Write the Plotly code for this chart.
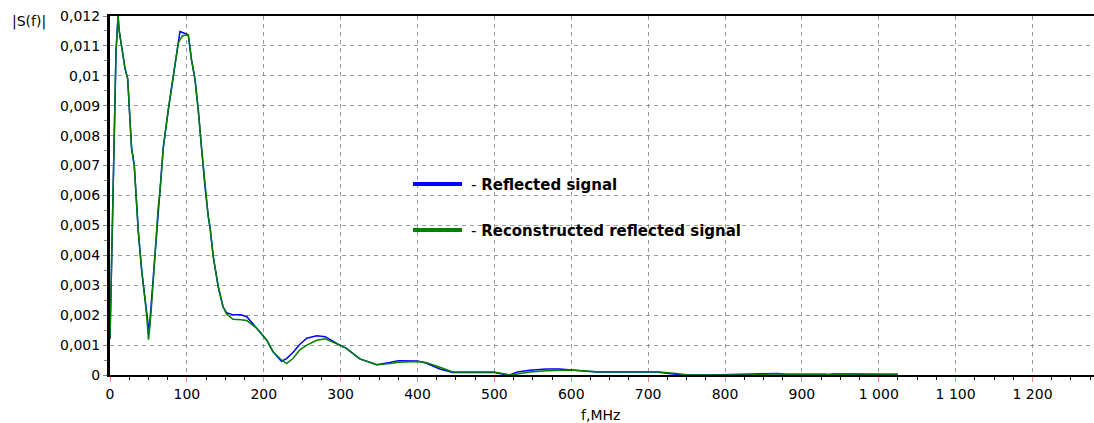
import plotly.graph_objects as go

# ---- data ----
freq_mhz = [0, 2, 5, 7.8, 10.5, 12, 15, 19.5, 23, 28, 31.6, 34.7, 36.8, 41.2, 45.5, 47.7,
            50, 51, 54, 57.2, 60.7, 62.8, 65, 69.3, 75.8, 82.3, 88.8, 91, 94.4, 101.8,
            106, 110.5, 114.8, 119, 123.5, 127.8, 130, 134.3, 140.8, 147, 151.7, 160, 170,
            178, 190.7, 203.7, 212, 223, 229.7, 238, 247, 256, 269, 280, 300, 307, 325,
            347, 364, 375, 400, 411, 429, 446, 470, 500, 510, 520, 530, 546, 568, 585,
            600, 633, 660, 700, 711, 737, 750, 780, 830, 860, 870, 880, 930, 940, 960,
            1025]

reflected = [0.0012, 0.0037, 0.0084, 0.0108, 0.0120, 0.0115, 0.0110, 0.01025, 0.0099, 0.0076,
             0.0070, 0.0056, 0.0048, 0.0035, 0.0025, 0.0021,
             0.0016, 0.0015, 0.0025, 0.0036, 0.00475, 0.00563, 0.0061, 0.0076, 0.00886, 0.0100,
             0.0111, 0.01148, 0.01145, 0.01137,
             0.01054, 0.0099, 0.00886, 0.0076, 0.0063, 0.0053, 0.00496, 0.00396, 0.00295, 0.00228,
             0.00208, 0.00201, 0.00201,
             0.00195, 0.00157, 0.00117, 0.00078, 0.00046, 0.00055, 0.00075, 0.00103, 0.00123,
             0.00131, 0.00128, 0.00098, 0.00090, 0.00054,
             0.00034, 0.00042, 0.00048, 0.00047, 0.00040, 0.00020, 0.00008, 0.00008, 0.00008,
             0.00003, 0.0, 0.0001, 0.00016, 0.0002, 0.0002,
             0.00017, 0.0001, 0.0001, 0.0001, 0.0001, 0.00002, 0.0, 0.0, 0.00003, 0.00003,
             0.00005, 0.0, 0.0, 0.00003, 0.00003,
             0.0]

reconstructed = [0.0012, 0.0037, 0.0084, 0.0108, 0.0120, 0.0115, 0.0110, 0.01025, 0.0099, 0.0076,
                 0.0070, 0.0056, 0.0048, 0.0035, 0.0025, 0.0020,
                 0.00118, 0.0014, 0.0023, 0.0036, 0.00475, 0.00563, 0.0061, 0.0076, 0.00886,
                 0.0100, 0.0111, 0.0112, 0.01134, 0.01137,
                 0.01054, 0.0099, 0.00886, 0.0076, 0.0063, 0.0053, 0.00496, 0.00396, 0.00295,
                 0.00228, 0.00204, 0.00186, 0.00185,
                 0.00182, 0.00157, 0.00117, 0.00078, 0.00050, 0.00038, 0.00055, 0.00084, 0.0010,
                 0.00116, 0.00121, 0.00098, 0.00090, 0.00054,
                 0.00034, 0.00038, 0.00043, 0.00045, 0.00042, 0.00026, 0.0001, 0.0001, 0.0001,
                 0.00005, 0.0, 0.00003, 0.0001, 0.00014, 0.00016,
                 0.00017, 0.00011, 0.00011, 0.00012, 0.00011, 0.00005, 0.00001, 0.0, 0.0, 0.00003,
                 0.00003, 0.00003, 0.00003, 0.0, 0.00003,
                 0.00003]

series_names = ["Reflected signal", "Reconstructed reflected signal"]
series_colors = ["#0000ff", "#008000"]

x_ticks = [0, 100, 200, 300, 400, 500, 600, 700, 800, 900, 1000, 1100, 1200]
x_tick_labels = ["0", "100", "200", "300", "400", "500", "600", "700", "800", "900",
                 "1 000", "1 100", "1 200"]
y_ticks = [0, 0.001, 0.002, 0.003, 0.004, 0.005, 0.006, 0.007, 0.008, 0.009, 0.010, 0.011, 0.012]
y_tick_labels = ["0", "0,001", "0,002", "0,003", "0,004", "0,005", "0,006", "0,007", "0,008",
                 "0,009", "0,01", "0,011", "0,012"]

y_title = "|S(f)|"
x_title = "f,MHz"

# ---- layout geometry ----
W, H = 1094, 423
ML, MR, MT, MB = 110, 0, 16, 48
PW, PH = W - ML - MR, H - MT - MB


def px(xp):
    return (xp - ML) / PW


def py(yp):
    return (H - MB - yp) / PH


FONT = "DejaVu Sans, Verdana, sans-serif"

fig = go.Figure()
fig.add_trace(go.Scatter(x=freq_mhz, y=reflected, mode="lines", name=series_names[0],
                         line=dict(color=series_colors[0], width=1.5), showlegend=False))
fig.add_trace(go.Scatter(x=freq_mhz, y=reconstructed, mode="lines", name=series_names[1],
                         line=dict(color=series_colors[1], width=1.5), showlegend=False))

grid = dict(showgrid=True, gridcolor="#9a9a9a", gridwidth=1, griddash="4px,4px", zeroline=False)

fig.update_layout(
    width=W, height=H,
    margin=dict(l=ML, r=MR, t=MT, b=MB, pad=0),
    paper_bgcolor="white", plot_bgcolor="white",
    font=dict(family=FONT, size=14, color="#000"),
    showlegend=False,
    xaxis=dict(range=[0, 1280], tickmode="array", tickvals=x_ticks, ticktext=x_tick_labels,
               ticks="outside", ticklen=5, tickwidth=1, tickcolor="#ff8080",
               minor=dict(ticks="outside", ticklen=3, tickcolor="#000", dtick=25, tick0=0,
                          showgrid=False),
               showline=True, linecolor="#000", linewidth=2, mirror=True,
               tickfont=dict(family=FONT, size=14, color="#000"), **grid),
    yaxis=dict(range=[0, 0.012], tickmode="array", tickvals=y_ticks, ticktext=y_tick_labels,
               ticks="outside", ticklen=4, tickwidth=1, tickcolor="#888",
               minor=dict(ticks="outside", ticklen=3, tickcolor="#888", dtick=0.0005, tick0=0,
                          showgrid=False),
               showline=True, linecolor="#000", linewidth=3,
               tickfont=dict(family=FONT, size=14, color="#000"), **grid),
)

# legend box (white, covers grid)
fig.add_shape(type="rect", xref="paper", yref="paper", x0=px(405), x1=px(1093),
              y0=py(283), y1=py(168), fillcolor="white", line=dict(width=0), layer="between")

legend_rows_y = [184, 230]
for name, color, yy in zip(series_names, series_colors, legend_rows_y):
    fig.add_shape(type="line", xref="paper", yref="paper", x0=px(413), x1=px(462),
                  y0=py(yy), y1=py(yy), line=dict(color=color, width=4), layer="above")
    fig.add_annotation(xref="paper", yref="paper", x=px(469), y=py(yy + 1), xanchor="left",
                       yanchor="middle", showarrow=False, text="- <b>" + name + "</b>",
                       font=dict(family=FONT, size=15, color="#000"))

fig.add_annotation(xref="paper", yref="paper", x=px(10), y=py(21), xanchor="left",
                   yanchor="middle", showarrow=False, text=y_title,
                   font=dict(family=FONT, size=14, color="#000"))
fig.add_annotation(xref="paper", yref="paper", x=px(600), y=py(415), xanchor="center",
                   yanchor="middle", showarrow=False, text=x_title,
                   font=dict(family=FONT, size=14, color="#000"))

fig.write_html("out.html")
